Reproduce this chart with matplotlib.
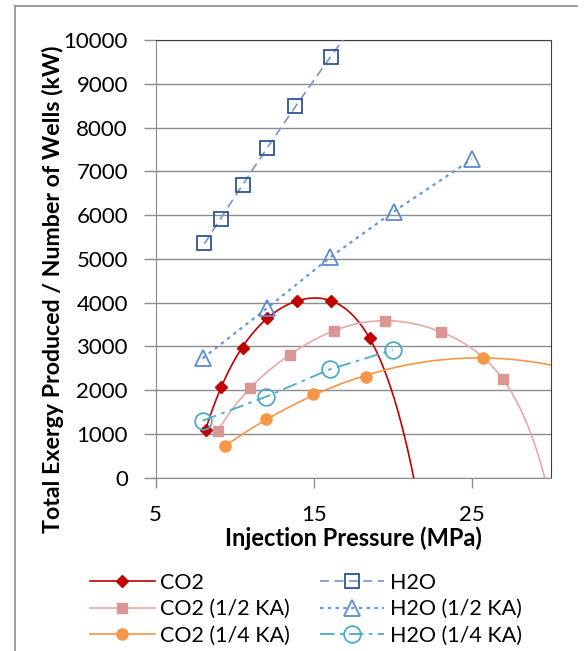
import matplotlib
matplotlib.use("Agg")
import matplotlib.pyplot as plt
import numpy as np
from matplotlib.lines import Line2D

plt.rcParams['font.family'] = ['Lato', 'DejaVu Sans']

# injection pressure (MPa) and exergy per well (kW)
co2_p = [8.16, 9.11, 10.50, 12.06, 13.92, 16.08, 18.53]
co2_e = [1090, 2079, 2956, 3655, 4044, 4037, 3185]

co2_half_p = [8.94, 10.96, 13.48, 16.28, 19.49, 23.06, 26.96]
co2_half_e = [1067, 2042, 2810, 3358, 3587, 3329, 2248]

co2_quarter_p = [9.41, 11.98, 14.94, 18.31, 25.73]
co2_quarter_e = [717, 1341, 1905, 2308, 2742]

h2o_p = [8.08, 9.11, 10.51, 12.04, 13.84, 16.08]
h2o_e = [5355, 5917, 6687, 7526, 8499, 9618]

h2o_half_p = [7.97, 12.03, 16.03, 20.04, 25.00]
h2o_half_e = [2728, 3870, 5035, 6077, 7274]

h2o_quarter_p = [7.97, 11.98, 16.02, 19.99]
h2o_quarter_e = [1302, 1851, 2477, 2918]

x_ticks = [5, 15, 25]
y_ticks = list(range(0, 10001, 1000))


def trend(ax, p, e, deg, x_end, **kw):
    """polynomial trendline from the first point out to x_end"""
    coef = np.polyfit(p, e, deg)
    xs = np.linspace(p[0], x_end, 400)
    ax.plot(xs, np.polyval(coef, xs), **kw)


fig = plt.figure(figsize=(5.86, 6.51), dpi=100)
ax = fig.add_axes([0.2657, 0.2662, 0.6746, 0.6724])

# CO2 series: polynomial trendlines plus markers
trend(ax, co2_p, co2_e, 4, 30, color='#C00000', lw=1.2, zorder=3)
ax.plot(co2_p, co2_e, 'D', color='#C00000', ms=6.5, zorder=4)
trend(ax, co2_half_p, co2_half_e, 6, 30, color='#E6A9A7', lw=1.2, zorder=3)
ax.plot(co2_half_p, co2_half_e, 's', color='#D99694', ms=7.5, zorder=4)
trend(ax, co2_quarter_p, co2_quarter_e, 2, 30, color='#F79646', lw=1.2, zorder=3)
ax.plot(co2_quarter_p, co2_quarter_e, 'o', color='#F79646', ms=8, zorder=4)

# H2O series
trend(ax, h2o_p, h2o_e, 2, 18, color='#7E9CC9', lw=1.3,
      linestyle=(0, (5, 3)), zorder=3)
ax.plot(h2o_p, h2o_e, 's', mfc='none', mec='#2E5597', mew=1.3, ms=10, zorder=4)
ax.plot(h2o_half_p, h2o_half_e, color='#6A96D4', lw=1.6,
        linestyle=(0, (1.5, 2)), marker='^', mfc='none', mec='#5B8CD0',
        mew=1.3, ms=11, zorder=4)
ax.plot(h2o_quarter_p, h2o_quarter_e, color='#4BACC6', lw=1.3,
        linestyle=(0, (8, 3, 2, 3)), marker='o', mfc='none', mec='#4BACC6',
        mew=1.3, ms=12, zorder=4)

ax.set_xlim(5, 30)
ax.set_ylim(0, 10000)
ax.set_xticks(x_ticks)
ax.set_yticks(y_ticks)
ax.yaxis.grid(True, color='#8C8C8C', lw=1.0)
ax.set_axisbelow(True)
for side in ['left', 'bottom']:
    ax.spines[side].set_color('#8C8C8C')
for side in ['top', 'right']:
    ax.spines[side].set_color('#404040')
ax.tick_params(axis='x', length=7, width=1, color='#8C8C8C', pad=13, labelsize=16)
ax.tick_params(axis='y', length=9, width=1, color='#8C8C8C', pad=11, labelsize=16)

ax.set_xlabel('Injection Pressure (MPa)', fontsize=17, fontweight='bold', labelpad=1)
ax.set_ylabel('Total Exergy Produced / Number of Wells (kW)', fontsize=16.7,
              fontweight='bold')
# the y title sits a bit below the middle of the plot, as in the original
ax.yaxis.set_label_coords(-0.232, 0.43)

handles = [
    Line2D([], [], color='#C00000', lw=1.2, marker='D', ms=6.5),
    Line2D([], [], color='#E6A9A7', lw=1.2, marker='s', mfc='#D99694',
           mec='#D99694', ms=7.5),
    Line2D([], [], color='#F79646', lw=1.2, marker='o', ms=8),
    Line2D([], [], color='#7E9CC9', lw=1.3, ls=(0, (5, 3)), marker='s',
           mfc='none', mec='#2E5597', mew=1.3, ms=10),
    Line2D([], [], color='#6A96D4', lw=1.6, ls=(0, (1.5, 2)), marker='^',
           mfc='none', mec='#5B8CD0', mew=1.3, ms=11),
    Line2D([], [], color='#4BACC6', lw=1.3, ls=(0, (8, 3, 2, 3)), marker='o',
           mfc='none', mec='#4BACC6', mew=1.3, ms=12),
]
labels = ['CO2', 'CO2 (1/2 KA)', 'CO2 (1/4 KA)', 'H2O', 'H2O (1/2 KA)',
          'H2O (1/4 KA)']
fig.legend(handles, labels, ncol=2, loc='center', bbox_to_anchor=(0.522, 0.064),
           frameon=False, fontsize=15.5, handlelength=3.0, handletextpad=0.25,
           columnspacing=1.4, labelspacing=0.3, borderpad=0, numpoints=1)

# outer chart border (left and top edges are visible in the original)
fig.add_artist(Line2D([15 / 586, 15 / 586], [0, 1 - 6 / 651],
                      transform=fig.transFigure, color='#8C8C8C', lw=1.2))
fig.add_artist(Line2D([15 / 586, 577 / 586], [1 - 6 / 651, 1 - 6 / 651],
                      transform=fig.transFigure, color='#8C8C8C', lw=1.2))

fig.savefig('out.png', dpi=100)
